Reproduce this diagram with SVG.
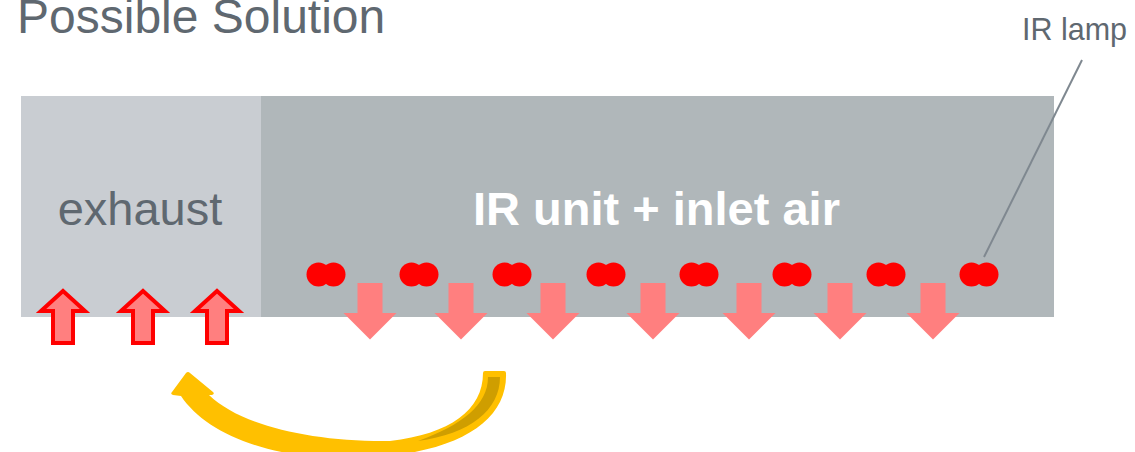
<svg xmlns="http://www.w3.org/2000/svg" width="1135" height="452" viewBox="0 0 1135 452">
<defs>
<style>
.t{font-family:"Liberation Sans",Arial,sans-serif;fill:#5f6870}
.lamp{fill:#ff0000}
.down{fill:#ff7f7f}
.up{fill:#ff7f7f;stroke:#ff0000;stroke-width:4;stroke-linejoin:miter}
</style>
<symbol id="lampPair" overflow="visible"><circle class="lamp" cx="-7.5" cy="0" r="12"/><circle class="lamp" cx="7.5" cy="0" r="12"/></symbol>
<path id="downArrow" class="down" d="M-12.5,283 L12.5,283 L12.5,313 L26.5,313 L0,339.5 L-26.5,313 L-12.5,313 Z"/>
<path id="upArrow" class="up" d="M0,291 L22,311 L10,311 L10,343 L-10,343 L-10,311 L-22,311 Z"/>
</defs>
<rect width="1135" height="452" fill="#ffffff"/>
<text class="t" x="17" y="33" font-size="48">Possible Solution</text>
<g id="exhaust">
<rect x="21" y="96" width="240" height="221" fill="#c9cdd2"/>
<text class="t" x="140" y="225" font-size="47" text-anchor="middle">exhaust</text>
</g>
<g id="ir-unit">
<rect x="261" y="96" width="793" height="221" fill="#b0b7ba"/>
<text x="656.5" y="225" font-size="47" font-weight="bold" text-anchor="middle" font-family="Liberation Sans, Arial, sans-serif" fill="#ffffff">IR unit + inlet air</text>
</g>
<g id="lamps">
<use href="#lampPair" x="326" y="274.5"/>
<use href="#lampPair" x="419" y="274.5"/>
<use href="#lampPair" x="512" y="274.5"/>
<use href="#lampPair" x="606" y="274.5"/>
<use href="#lampPair" x="699" y="274.5"/>
<use href="#lampPair" x="792" y="274.5"/>
<use href="#lampPair" x="886" y="274.5"/>
<use href="#lampPair" x="979" y="274.5"/>
</g>
<g id="inlet-arrows">
<use href="#downArrow" x="370"/>
<use href="#downArrow" x="461"/>
<use href="#downArrow" x="553"/>
<use href="#downArrow" x="653"/>
<use href="#downArrow" x="749"/>
<use href="#downArrow" x="840"/>
<use href="#downArrow" x="933"/>
</g>
<g id="exhaust-arrows">
<use href="#upArrow" x="63"/>
<use href="#upArrow" x="143"/>
<use href="#upArrow" x="217"/>
</g>
<g id="ir-lamp-label">
<text class="t" x="1022" y="40" font-size="30.5">IR lamp</text>
</g>
<g id="connectors">
<line x1="1082" y1="60" x2="984" y2="257" stroke="#7f8890" stroke-width="2"/>
<g id="recirculation-arrow">
<path d="M483,373 Q483,371 485,371 L504,371 Q506,371 506,373 C508,425 450,458 345,458 C265,458 205,432 181,396 L173,395 Q170,394 172,392 L186,373 Q188,371 190,373 L213,392 Q215,394 212,395 L209,395 C240,425 310,442 390,441 C450,434 483,410 483,373 Z" fill="#ffc000"/>
<path d="M488,377 L500,377 C500,410 470,434 418,441 C462,425 488,405 488,377 Z" fill="#cf9e00"/>
</g>
</g>
</svg>
